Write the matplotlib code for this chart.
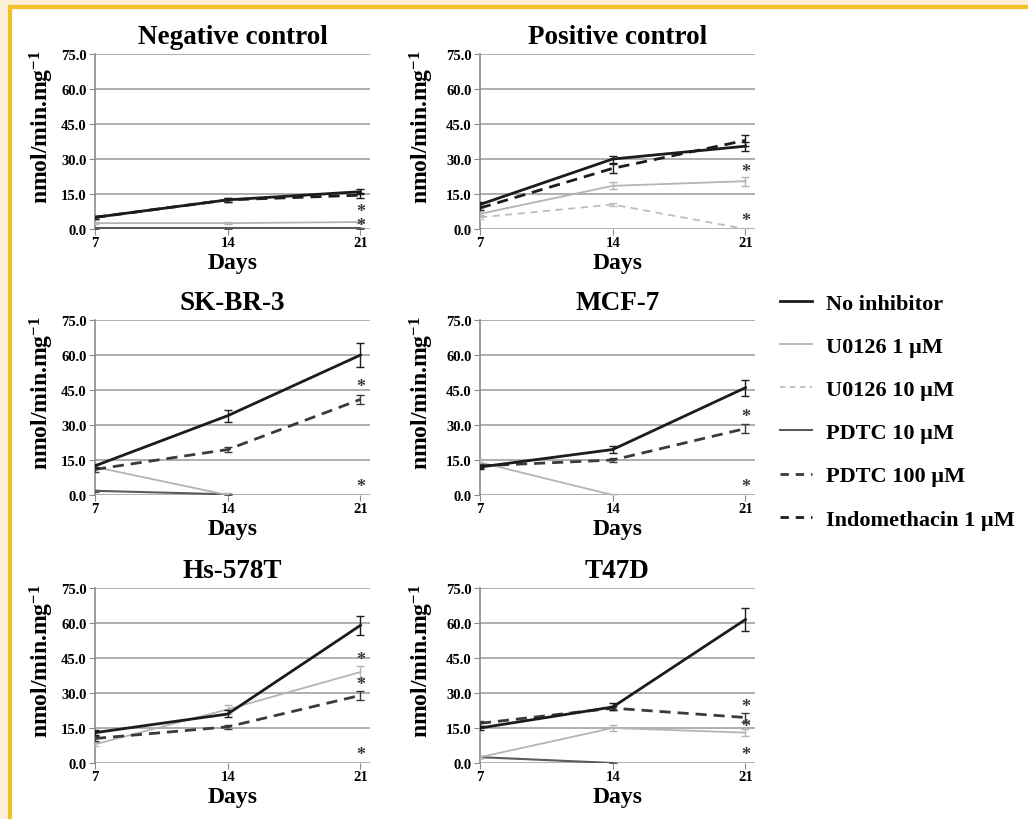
import numpy as np
import matplotlib
matplotlib.use("Agg")
import matplotlib.pyplot as plt
from matplotlib.lines import Line2D
from matplotlib.patches import Rectangle

plt.rcParams['font.family'] = ['Liberation Serif', 'DejaVu Serif']
plt.rcParams['font.weight'] = 'bold'
plt.rcParams['mathtext.fontset'] = 'custom'
plt.rcParams['mathtext.rm'] = 'Liberation Serif:bold'
plt.rcParams['mathtext.it'] = 'Liberation Serif:bold'
plt.rcParams['mathtext.bf'] = 'Liberation Serif:bold'

days = [7, 14, 21]
yticks = [0, 15, 30, 45, 60, 75]
titles = ["Negative control", "Positive control", "SK-BR-3", "MCF-7", "Hs-578T", "T47D"]
nan = np.nan

# series values per panel: {series: (values, errors)}
neg_ctrl = {
    "PDTC 10 µM": ([0.3, 0.3, 0.3], [0.2, 0.2, 0.2]),
    "U0126 1 µM": ([2.5, 2.5, 3.0], [0.3, 0.3, 0.4]),
    "Indomethacin 1 µM": ([5.0, 12.5, 14.5], [0.5, 0.8, 1.0]),
    "No inhibitor": ([5.0, 12.5, 16.0], [0.5, 0.8, 1.2]),
}
pos_ctrl = {
    "U0126 10 µM": ([5.0, 10.5, 0.0], [0.8, 0.8, 0.3]),
    "U0126 1 µM": ([6.5, 18.5, 20.5], [1.0, 1.5, 2.0]),
    "Indomethacin 1 µM": ([9.0, 26.0, 38.0], [1.0, 2.0, 2.5]),
    "No inhibitor": ([10.5, 30.0, 35.5], [1.0, 1.5, 2.0]),
}
skbr3 = {
    "PDTC 10 µM": ([1.8, 0.3, nan], [0.3, 0.3, 0]),
    "U0126 1 µM": ([12.0, 0.0, nan], [1.0, 1.0, 0]),
    "PDTC 100 µM": ([11.0, 19.5, 41.0], [1.0, 1.2, 1.8]),
    "No inhibitor": ([12.5, 34.0, 60.0], [1.0, 2.5, 5.0]),
}
mcf7 = {
    "U0126 1 µM": ([14.0, 0.0, nan], [1.5, 0.3, 0]),
    "PDTC 100 µM": ([12.5, 15.0, 28.5], [1.0, 1.0, 2.0]),
    "No inhibitor": ([12.0, 19.5, 46.0], [1.0, 1.5, 3.5]),
}
hs578t = {
    "U0126 1 µM": ([8.0, 23.0, 39.0], [0.8, 2.0, 2.5]),
    "PDTC 100 µM": ([10.5, 15.5, 29.0], [1.0, 0.8, 2.0]),
    "No inhibitor": ([13.0, 21.0, 59.0], [1.0, 1.5, 4.0]),
}
t47d = {
    "PDTC 10 µM": ([2.5, 0.0, nan], [0.4, 0.2, 0]),
    "U0126 1 µM": ([2.5, 15.0, 13.0], [0.5, 1.2, 1.5]),
    "PDTC 100 µM": ([17.0, 23.5, 19.5], [1.0, 1.0, 2.0]),
    "No inhibitor": ([15.0, 24.0, 61.5], [1.0, 1.5, 5.0]),
}
panels = [neg_ctrl, pos_ctrl, skbr3, mcf7, hs578t, t47d]

# significance stars at day 21: (value, text)
stars = [[(4.6, "*\n*")],
         [(24.5, "*"), (3.5, "*")],
         [(46.5, "*"), (3.5, "*")],
         [(33.5, "*"), (3.5, "*")],
         [(44.5, "*"), (33.5, "*"), (3.5, "*")],
         [(24.0, "*"), (15.5, "*"), (3.5, "*")]]

styles = {
    "No inhibitor": dict(color="#1c1c1c", ls="-", lw=2.0),
    "U0126 1 µM": dict(color="#b4b4b4", ls="-", lw=1.3),
    "U0126 10 µM": dict(color="#bdbdbd", ls=(0, (4, 3)), lw=1.3),
    "PDTC 10 µM": dict(color="#5a5a5a", ls="-", lw=1.5),
    "PDTC 100 µM": dict(color="#3a3a3a", ls=(0, (4, 2.5)), lw=2.0),
    "Indomethacin 1 µM": dict(color="#1c1c1c", ls=(0, (4, 2.5)), lw=2.0),
}
legend_order = ["No inhibitor", "U0126 1 µM", "U0126 10 µM", "PDTC 10 µM",
                "PDTC 100 µM", "Indomethacin 1 µM"]

fig = plt.figure(figsize=(10.28, 8.2), dpi=100)
fig.patch.set_facecolor("#fcefd6")
fig.patches.append(Rectangle((10 / 1028, -0.02), 1.0, 1.02 - 8 / 820,
                             transform=fig.transFigure, facecolor="white",
                             edgecolor="#f0c026", lw=3, zorder=-10))

lefts = [0.0924, 0.4669]
bottoms = [0.7195, 0.3951, 0.0683]
w, h = 0.2675, 0.2134

for i, (data, title) in enumerate(zip(panels, titles)):
    ax = fig.add_axes([lefts[i % 2], bottoms[i // 2], w, h])
    ax.set_facecolor("none")
    ax.set_xlim(7, 21.5)
    ax.set_ylim(0, 75)
    ax.set_yticks(yticks)
    ax.set_yticklabels([f"{v:.1f}" for v in yticks], fontsize=10.5, fontweight="bold")
    ax.set_xticks(days)
    ax.set_xticklabels([str(d) for d in days], fontsize=10.5, fontweight="bold")
    for s in ["top", "right", "bottom"]:
        ax.spines[s].set_visible(False)
    ax.spines["left"].set_color("#8c8c8c")
    ax.spines["left"].set_linewidth(1.2)
    ax.grid(axis="y", color="#a8a8a8", lw=1.3)
    ax.set_axisbelow(True)
    ax.tick_params(axis="y", length=4, color="#8c8c8c", pad=2)
    ax.tick_params(axis="x", length=4, color="#8c8c8c", pad=1)
    ax.set_title(title, fontsize=19.5, fontweight="bold", pad=8)
    ax.set_xlabel("Days", fontsize=17, fontweight="bold", labelpad=2)
    ax.set_ylabel("nmol/min.mg$^{-1}$", fontsize=17, fontweight="bold")
    ax.yaxis.set_label_coords(-0.142 if i % 2 == 0 else -0.16, 0.585)
    for name, (vals, errs) in data.items():
        st = styles[name]
        ax.plot(days, vals, color=st["color"], ls=st["ls"], lw=st["lw"], zorder=3)
        ax.errorbar(days, vals, yerr=errs, fmt="none", ecolor=st["color"],
                    elinewidth=1.0, capsize=3, capthick=1.0, zorder=3)
    for sy, txt in stars[i]:
        ax.text(21, sy, txt, ha="center", va="center", fontsize=13,
                fontweight="bold", color="#3a3a3a", zorder=4, linespacing=0.75)

handles = [Line2D([], [], color=styles[n]["color"],
                  ls="-" if styles[n]["ls"] == "-" else (0, (3, 2.5)),
                  lw=styles[n]["lw"]) for n in legend_order]
fig.legend(handles, legend_order, loc="upper left",
           bbox_to_anchor=(760 / 1028, 1 - 274 / 820), frameon=False,
           prop=dict(family="Liberation Serif", weight="bold", size=16),
           handlelength=1.45, handletextpad=0.6, labelspacing=1.02)

fig.savefig("out.png", dpi=100, facecolor=fig.get_facecolor())
